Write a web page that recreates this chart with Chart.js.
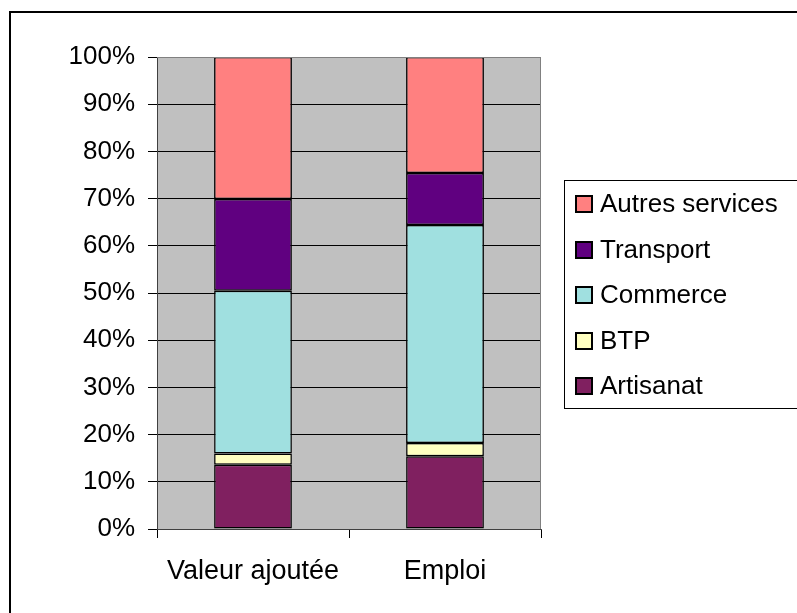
<!DOCTYPE html>
<html>
<head>
<meta charset="utf-8">
<script src="https://cdn.jsdelivr.net/npm/chart.js@4"></script>
<style>
  html, body { margin: 0; padding: 0; background: #ffffff; }
  canvas { display: block; }
</style>
</head>
<body>
<canvas id="c" width="797" height="613"></canvas>
<script>
// ---- Data (percent shares, bottom to top) ----
const categories = ["Valeur ajoutée", "Emploi"];
const seriesNames = ["Artisanat", "BTP", "Commerce", "Transport", "Autres services"];
const artisanat = [13.6, 15.4];
const btp = [2.4, 2.8];
const commerce = [34.5, 46.2];
const transport = [19.4, 11.0];
const autresServices = [30.1, 24.6];
const yTickValues = [0, 10, 20, 30, 40, 50, 60, 70, 80, 90, 100];

const seriesValues = [artisanat, btp, commerce, transport, autresServices];
const seriesColors = ["#802060", "#FFFFC0", "#A0E0E0", "#600080", "#FF8080"];

const FONT = "'Liberation Sans', Arial, sans-serif";

const backgroundPlugin = {
  id: 'bgAndFrame',
  beforeDraw(chart) {
    const ctx = chart.ctx;
    const a = chart.chartArea;
    ctx.save();
    ctx.fillStyle = '#ffffff';
    ctx.fillRect(0, 0, chart.width, chart.height);
    // outer frame
    ctx.strokeStyle = '#000000';
    ctx.lineWidth = 2;
    ctx.strokeRect(10, 12, 1000, 1000);
    // plot background
    ctx.fillStyle = '#C0C0C0';
    ctx.fillRect(a.left, a.top, a.right - a.left, a.bottom - a.top);
    ctx.restore();
  },
  afterDraw(chart) {
    const ctx = chart.ctx;
    const a = chart.chartArea;
    ctx.save();
    ctx.strokeStyle = '#808080';
    ctx.lineWidth = 1;
    ctx.beginPath();
    ctx.moveTo(a.left, a.top + 0.5);
    ctx.lineTo(a.right, a.top + 0.5);
    ctx.moveTo(a.right - 0.5, a.top);
    ctx.lineTo(a.right - 0.5, a.bottom);
    ctx.stroke();

    // legend (reverse order, like the reference)
    const boxL = 564, boxT = 180, boxB = 408;
    ctx.fillStyle = '#ffffff';
    ctx.fillRect(boxL, boxT, 1000, boxB - boxT);
    ctx.strokeStyle = '#000000';
    ctx.lineWidth = 1;
    ctx.strokeRect(boxL + 0.5, boxT + 0.5, 1000, boxB - boxT);
    const ds = chart.data.datasets;
    const centers = [204, 250, 295, 341, 386];
    ctx.font = '26px ' + FONT;
    ctx.textBaseline = 'middle';
    ctx.textAlign = 'left';
    for (let i = 0; i < ds.length; i++) {
      const d = ds[ds.length - 1 - i];
      const cy = centers[i];
      ctx.fillStyle = d.backgroundColor;
      ctx.fillRect(576, cy - 8, 16, 16);
      ctx.lineWidth = 2;
      ctx.strokeStyle = '#000000';
      ctx.strokeRect(576, cy - 8, 16, 16);
      ctx.fillStyle = '#000000';
      ctx.fillText(d.label, 600, cy + 1);
    }
    ctx.restore();
  }
};

new Chart(document.getElementById('c'), {
  type: 'bar',
  data: {
    labels: categories,
    datasets: seriesNames.map((name, i) => ({
      label: name,
      data: seriesValues[i],
      backgroundColor: seriesColors[i],
      borderColor: '#000000',
      borderWidth: 1.5,
      borderSkipped: false,
      barPercentage: 0.405,
      categoryPercentage: 1.0
    }))
  },
  options: {
    responsive: false,
    animation: false,
    devicePixelRatio: 1,
    layout: { padding: { top: 57, right: 256, left: 0, bottom: 0 } },
    plugins: {
      legend: { display: false },
      tooltip: { enabled: false },
      title: { display: false }
    },
    scales: {
      x: {
        stacked: true,
        afterFit(scale) { scale.height = 84; },
        grid: {
          offset: true,
          drawOnChartArea: false,
          drawTicks: true,
          tickLength: 9,
          color: '#000000',
          lineWidth: 1
        },
        border: { display: true, color: '#404040', width: 1 },
        ticks: {
          color: '#000000',
          font: { family: FONT, size: 27 },
          padding: 17,
          maxRotation: 0
        }
      },
      y: {
        stacked: true,
        min: 0,
        max: 100,
        afterFit(scale) { scale.width = 157; },
        afterBuildTicks(scale) { scale.ticks = yTickValues.map(v => ({ value: v })); },
        grid: {
          drawOnChartArea: true,
          drawTicks: true,
          tickLength: 9,
          color: '#000000',
          lineWidth: 1
        },
        border: { display: true, color: '#404040', width: 1 },
        ticks: {
          color: '#000000',
          font: { family: FONT, size: 26 },
          padding: 13,
          callback: v => v + '%'
        }
      }
    }
  },
  plugins: [backgroundPlugin]
});
</script>
</body>
</html>
